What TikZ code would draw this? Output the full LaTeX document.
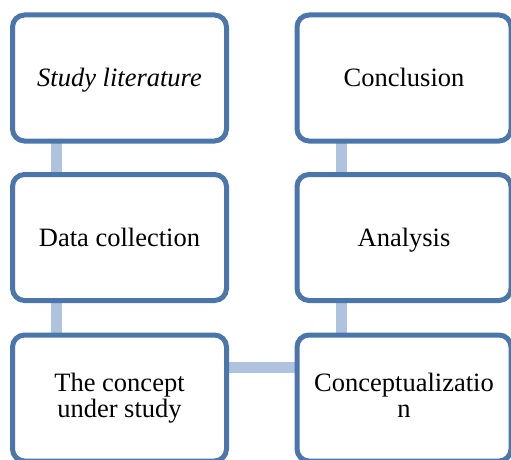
\documentclass[tikz,border=0pt]{standalone}
\usepackage{fontspec}
\setmainfont{Liberation Serif}
\usetikzlibrary{backgrounds}
\definecolor{boxblue}{RGB}{74,118,172}
\definecolor{connblue}{RGB}{176,195,222}
\tikzset{
  stepbox/.style={draw=boxblue, line width=5pt, fill=white, rounded corners=12pt,
    minimum width=214pt, minimum height=126pt, align=center, inner sep=0pt,
    text height=17pt, text depth=0pt,
    font=\fontsize{26.5}{26}\selectfont},
  twoline/.style={text height=39pt},
  conn/.style={draw=connblue, line width=11pt}
}
\begin{document}
\begin{tikzpicture}[x=1pt,y=1pt]
\useasboundingbox (0,0) rectangle (511,459);
\node[stepbox] (lit) at (119.5,381) {\textit{Study literature}};
\node[stepbox] (data) at (119.5,221.5) {Data collection};
\node[stepbox, twoline] (concept) at (119.5,61) {The concept\\under study};
\node[stepbox] (concl) at (404,381) {Conclusion};
\node[stepbox] (anal) at (404,221.5) {Analysis};
\node[stepbox, twoline] (cptz) at (404,61) {Conceptualizatio\\n};
\begin{scope}[on background layer]
\draw[conn] ([xshift=-63.5pt]lit.center) -- ([xshift=-63.5pt]data.center);
\draw[conn] ([xshift=-63.5pt]data.center) -- ([xshift=-63.5pt]concept.center);
\draw[conn] ([xshift=-62.5pt]concl.center) -- ([xshift=-62.5pt]anal.center);
\draw[conn] ([xshift=-62.5pt]anal.center) -- ([xshift=-62.5pt]cptz.center);
\draw[conn] ([yshift=31pt]concept.center) -- ([yshift=31pt]cptz.center);
\end{scope}
\end{tikzpicture}
\end{document}
